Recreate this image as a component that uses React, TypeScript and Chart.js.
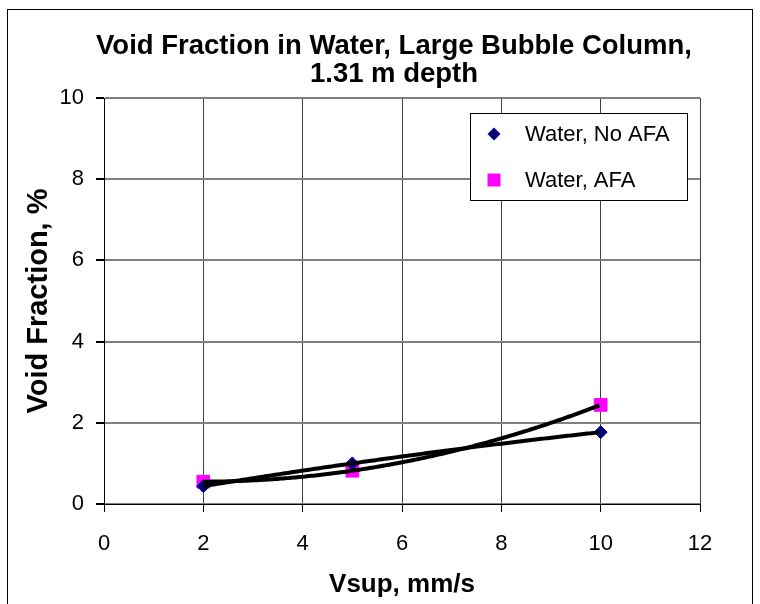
import React, { useEffect, useRef } from "react";
import { Chart, registerables } from "chart.js";

Chart.register(...registerables);

const TITLE_LINES = ["Void Fraction in Water, Large Bubble Column,", "1.31 m depth"];
const X_TITLE = "Vsup, mm/s";
const Y_TITLE = "Void Fraction, %";

const vsup = [2, 5, 10];
const waterNoAFA = [0.44, 1.0, 1.77];
const waterAFA = [0.55, 0.82, 2.44];

const SERIES_NAMES = ["Water, No AFA", "Water, AFA"];

const FONT = '"Liberation Sans", Arial, sans-serif';

const toPts = (xs: number[], ys: number[]) => xs.map((x, i) => ({ x, y: ys[i] }));

// 2nd-order polynomial trendline (like the spreadsheet's), fitted to each marker series
const polyTrendPlugin = {
  id: "polyTrend",
  afterDatasetsDraw(chart: any) {
    const ctx = chart.ctx;
    const xs = chart.scales.x;
    const ys = chart.scales.y;
    const series = [waterNoAFA, waterAFA];
    ctx.save();
    ctx.strokeStyle = "#000";
    ctx.lineWidth = 4;
    ctx.lineJoin = "round";
    ctx.lineCap = "butt";
    for (const s of series) {
      const [x0, x1, x2] = vsup;
      const [y0, y1, y2] = s;
      const f = (x: number) =>
        (y0 * (x - x1) * (x - x2)) / ((x0 - x1) * (x0 - x2)) +
        (y1 * (x - x0) * (x - x2)) / ((x1 - x0) * (x1 - x2)) +
        (y2 * (x - x0) * (x - x1)) / ((x2 - x0) * (x2 - x1));
      const pxStart = xs.getPixelForValue(x0);
      const pxEnd = xs.getPixelForValue(x2);
      ctx.beginPath();
      for (let px = pxStart; px <= pxEnd + 0.01; px += 2) {
        const v = xs.getValueForPixel(px);
        const py = ys.getPixelForValue(f(v));
        if (px === pxStart) ctx.moveTo(px, py);
        else ctx.lineTo(px, py);
      }
      ctx.stroke();
    }
    ctx.restore();
  },
};

const titlePlugin = {
  id: "customTitle",
  afterDraw(chart: any) {
    const ctx = chart.ctx;
    ctx.save();
    ctx.fillStyle = "#000";
    ctx.font = `bold 27.5px ${FONT}`;
    ctx.textAlign = "center";
    ctx.textBaseline = "alphabetic";
    ctx.fillText(TITLE_LINES[0], 386, 44);
    ctx.fillText(TITLE_LINES[1], 386, 72);
    ctx.restore();
  },
};

const legendPlugin = {
  id: "customLegend",
  afterDraw(chart: any) {
    const ctx = chart.ctx;
    const left = 462, top = 103, w = 217, h = 87;
    ctx.save();
    ctx.fillStyle = "#fff";
    ctx.fillRect(left, top, w, h);
    ctx.strokeStyle = "#000";
    ctx.lineWidth = 1;
    ctx.strokeRect(left + 0.5, top + 0.5, w, h);
    const mx = 486;
    const rows = [124, 170];
    ctx.fillStyle = "#000080";
    ctx.beginPath();
    ctx.moveTo(mx - 6.5, rows[0]);
    ctx.lineTo(mx, rows[0] - 6.5);
    ctx.lineTo(mx + 6.5, rows[0]);
    ctx.lineTo(mx, rows[0] + 6.5);
    ctx.closePath();
    ctx.fill();
    ctx.fillStyle = "#FF00FF";
    ctx.fillRect(mx - 6.5, rows[1] - 6.5, 13, 13);
    ctx.fillStyle = "#000";
    ctx.font = `22px ${FONT}`;
    ctx.textAlign = "left";
    ctx.textBaseline = "middle";
    ctx.fillText(SERIES_NAMES[0], 517, rows[0] + 1);
    ctx.fillText(SERIES_NAMES[1], 517, rows[1] + 1);
    ctx.restore();
  },
};

export default function App() {
  const ref = useRef<HTMLCanvasElement | null>(null);
  useEffect(() => {
    if (!ref.current) return;
    const chart = new Chart(ref.current, {
      type: "scatter",
      data: {
        datasets: [
          {
            label: SERIES_NAMES[0],
            data: toPts(vsup, waterNoAFA),
            pointStyle: "rectRot",
            pointRadius: 6.5,
            backgroundColor: "#000080",
            borderColor: "#000080",
            borderWidth: 1,
          },
          {
            label: SERIES_NAMES[1],
            data: toPts(vsup, waterAFA),
            pointStyle: "rect",
            pointRadius: 9,
            backgroundColor: "#FF00FF",
            borderColor: "#FF00FF",
            borderWidth: 1,
          },
        ],
      },
      options: {
        responsive: false,
        animation: false,
        layout: { padding: { left: 0, right: 52, top: 88, bottom: 0 } },
        plugins: {
          legend: { display: false },
          title: { display: false },
          tooltip: { enabled: false },
        },
        scales: {
          x: {
            type: "linear",
            min: 0,
            max: 12,
            ticks: {
              stepSize: 2,
              color: "#000",
              font: { family: FONT, size: 22 },
              padding: 19,
            },
            grid: {
              color: "#404040",
              lineWidth: 1,
              tickLength: 8,
              tickColor: "#000",
            },
            border: { color: "#000", width: 1 },
            title: {
              display: true,
              text: X_TITLE,
              color: "#000",
              font: { family: FONT, size: 26, weight: "bold" },
              padding: { top: 0, bottom: 10 },
            },
            afterFit(scale: any) {
              scale.height = 106;
            },
          },
          y: {
            type: "linear",
            min: 0,
            max: 10,
            ticks: {
              stepSize: 2,
              color: "#000",
              font: { family: FONT, size: 22 },
              padding: 12,
            },
            grid: {
              color: "#808080",
              lineWidth: 2,
              tickLength: 8,
              tickColor: "#000",
            },
            border: { color: "#000", width: 1 },
            title: {
              display: true,
              text: Y_TITLE,
              color: "#000",
              font: { family: FONT, size: 29, weight: "bold" },
              padding: { top: 14, bottom: 0 },
            },
            afterFit(scale: any) {
              scale.width = 96;
            },
          },
        },
      },
      plugins: [polyTrendPlugin, titlePlugin, legendPlugin],
    } as any);
    return () => chart.destroy();
  }, []);
  return (
    <div
      style={{
        position: "absolute",
        left: 7,
        top: 9,
        width: 744,
        height: 600,
        border: "1px solid #000",
        overflow: "hidden",
        background: "#fff",
      }}
    >
      <canvas ref={ref} width={744} height={600} style={{ display: "block", width: 744, height: 600 }} />
    </div>
  );
}
